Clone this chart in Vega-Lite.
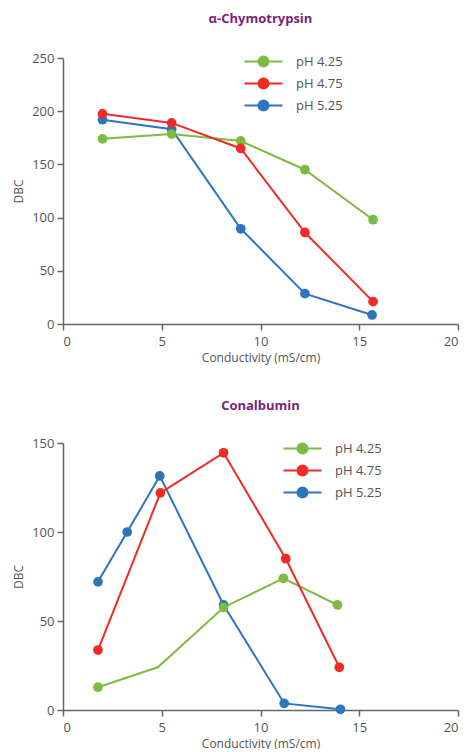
{
  "$schema": "https://vega.github.io/schema/vega-lite/v6.json",
  "padding": {"left": 12, "top": 13, "right": 5, "bottom": 0},
  "config": {
    "font": "Open Sans",
    "view": {"stroke": null},
    "axis": {"grid": false, "domainColor": "#666", "domainWidth": 1.5, "tickColor": "#666", "tickWidth": 1.5, "tickSize": 6, "labelFontSize": 13, "labelColor": "#555", "titleFontSize": 12, "titleFontWeight": "normal", "titleColor": "#555", "labelPadding": 3},
    "title": {"fontSize": 13, "fontWeight": "bold", "color": "#7B1F7B", "anchor": "middle"},
    "legend": {"labelFontSize": 13, "labelColor": "#555"}
  },
  "data": {"values": [
    {"panel": "Chymo", "pH": "pH 5.25", "cond": 2.0, "dbc": 192},
    {"panel": "Chymo", "pH": "pH 5.25", "cond": 5.5, "dbc": 183},
    {"panel": "Chymo", "pH": "pH 5.25", "cond": 9.0, "dbc": 89.5},
    {"panel": "Chymo", "pH": "pH 5.25", "cond": 12.25, "dbc": 28.5},
    {"panel": "Chymo", "pH": "pH 5.25", "cond": 15.65, "dbc": 8.5},
    {"panel": "Chymo", "pH": "pH 4.25", "cond": 2.0, "dbc": 174},
    {"panel": "Chymo", "pH": "pH 4.25", "cond": 5.5, "dbc": 178.5},
    {"panel": "Chymo", "pH": "pH 4.25", "cond": 9.0, "dbc": 172},
    {"panel": "Chymo", "pH": "pH 4.25", "cond": 12.25, "dbc": 145},
    {"panel": "Chymo", "pH": "pH 4.25", "cond": 15.7, "dbc": 98},
    {"panel": "Chymo", "pH": "pH 4.75", "cond": 2.0, "dbc": 197.5},
    {"panel": "Chymo", "pH": "pH 4.75", "cond": 5.5, "dbc": 189},
    {"panel": "Chymo", "pH": "pH 4.75", "cond": 9.0, "dbc": 165},
    {"panel": "Chymo", "pH": "pH 4.75", "cond": 12.25, "dbc": 86},
    {"panel": "Chymo", "pH": "pH 4.75", "cond": 15.7, "dbc": 21},
    {"panel": "Conal", "pH": "pH 5.25", "cond": 1.77, "dbc": 72},
    {"panel": "Conal", "pH": "pH 5.25", "cond": 3.25, "dbc": 100},
    {"panel": "Conal", "pH": "pH 5.25", "cond": 4.9, "dbc": 131.5},
    {"panel": "Conal", "pH": "pH 5.25", "cond": 8.13, "dbc": 59},
    {"panel": "Conal", "pH": "pH 5.25", "cond": 11.2, "dbc": 3.7},
    {"panel": "Conal", "pH": "pH 5.25", "cond": 14.05, "dbc": 0.4},
    {"panel": "Conal", "pH": "pH 4.25", "cond": 1.77, "dbc": 12.8},
    {"panel": "Conal", "pH": "pH 4.25", "cond": 4.8, "dbc": 24},
    {"panel": "Conal", "pH": "pH 4.25", "cond": 8.13, "dbc": 57.6},
    {"panel": "Conal", "pH": "pH 4.25", "cond": 11.16, "dbc": 74},
    {"panel": "Conal", "pH": "pH 4.25", "cond": 13.9, "dbc": 59},
    {"panel": "Conal", "pH": "pH 4.75", "cond": 1.77, "dbc": 33.7},
    {"panel": "Conal", "pH": "pH 4.75", "cond": 4.93, "dbc": 122},
    {"panel": "Conal", "pH": "pH 4.75", "cond": 8.13, "dbc": 144.5},
    {"panel": "Conal", "pH": "pH 4.75", "cond": 11.28, "dbc": 85},
    {"panel": "Conal", "pH": "pH 4.75", "cond": 13.99, "dbc": 24}
  ]},
  "resolve": {"scale": {"color": "independent", "x": "independent", "y": "independent"}, "legend": {"color": "independent"}},
  "spacing": 37,
  "vconcat": [
    {
      "width": 395, "height": 266,
      "title": {"text": "α-Chymotrypsin", "offset": 26},
      "transform": [{"filter": "datum.panel === 'Chymo'"}],
      "encoding": {
        "x": {"field": "cond", "type": "quantitative", "scale": {"domain": [0, 20]}, "axis": {"values": [0, 5, 10, 15, 20], "title": "Conductivity (mS/cm)", "titlePadding": 4, "labelPadding": 5}},
        "y": {"field": "dbc", "type": "quantitative", "scale": {"domain": [0, 250]}, "axis": {"values": [0, 50, 100, 150, 200, 250], "title": "DBC", "titlePadding": 6}},
        "color": {"field": "pH", "type": "nominal", "scale": {"domain": ["pH 4.25", "pH 4.75", "pH 5.25"], "range": ["#7DBB42", "#EE2B24", "#2E74BF"]},
          "legend": {"title": null, "orient": "none", "legendX": 194, "legendY": -3, "symbolType": "M-3.8,0L3.8,0M-1,0A1,1,0,1,1,1,0A1,1,0,1,1,-1,0Z", "symbolSize": 100, "symbolStrokeWidth": 2, "labelOffset": 26, "rowPadding": 3,
            "encode": {"symbols": {"update": {"fill": {"signal": "datum.value === 'pH 4.25' ? '#7DBB42' : datum.value === 'pH 4.75' ? '#EE2B24' : '#2E74BF'"}, "stroke": {"signal": "datum.value === 'pH 4.25' ? '#7DBB42' : datum.value === 'pH 4.75' ? '#EE2B24' : '#2E74BF'"}, "opacity": {"value": 1}}}}}}
      },
      "layer": [
        {"mark": {"type": "line", "strokeWidth": 2}},
        {"mark": {"type": "point", "filled": true, "size": 95, "opacity": 1}}
      ]
    },
    {
      "width": 395, "height": 267,
      "title": {"text": "Conalbumin", "offset": 24},
      "transform": [{"filter": "datum.panel === 'Conal'"}],
      "encoding": {
        "x": {"field": "cond", "type": "quantitative", "scale": {"domain": [0, 20]}, "axis": {"values": [0, 5, 10, 15, 20], "title": "Conductivity (mS/cm)", "titlePadding": 4, "labelPadding": 5}},
        "y": {"field": "dbc", "type": "quantitative", "scale": {"domain": [0, 150]}, "axis": {"values": [0, 50, 100, 150], "title": "DBC", "titlePadding": 6}},
        "color": {"field": "pH", "type": "nominal", "scale": {"domain": ["pH 4.25", "pH 4.75", "pH 5.25"], "range": ["#7DBB42", "#EE2B24", "#2E74BF"]},
          "legend": {"title": null, "orient": "none", "legendX": 233, "legendY": -1, "symbolType": "M-3.8,0L3.8,0M-1,0A1,1,0,1,1,1,0A1,1,0,1,1,-1,0Z", "symbolSize": 100, "symbolStrokeWidth": 2, "labelOffset": 26, "rowPadding": 3,
            "encode": {"symbols": {"update": {"fill": {"signal": "datum.value === 'pH 4.25' ? '#7DBB42' : datum.value === 'pH 4.75' ? '#EE2B24' : '#2E74BF'"}, "stroke": {"signal": "datum.value === 'pH 4.25' ? '#7DBB42' : datum.value === 'pH 4.75' ? '#EE2B24' : '#2E74BF'"}, "opacity": {"value": 1}}}}}}
      },
      "layer": [
        {"mark": {"type": "line", "strokeWidth": 2}},
        {"mark": {"type": "point", "filled": true, "size": 95, "opacity": 1},
         "transform": [{"filter": "!(datum.pH === 'pH 4.25' && datum.cond === 4.8)"}]}
      ]
    }
  ]
}
